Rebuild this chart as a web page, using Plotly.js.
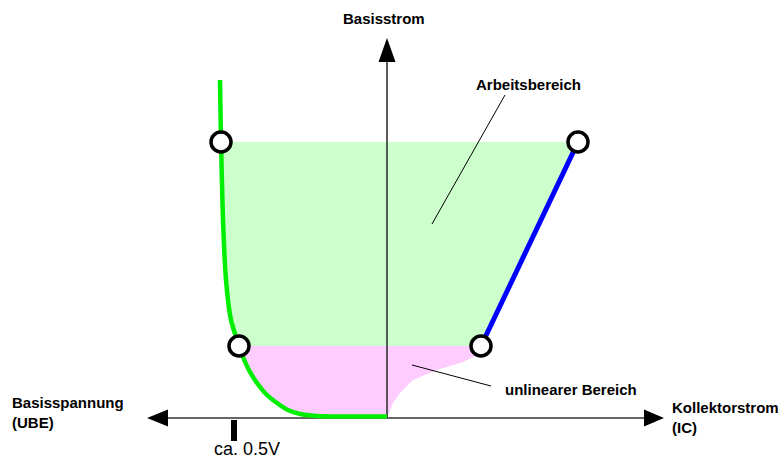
<!DOCTYPE html>
<html><head><meta charset="utf-8">
<script src="https://cdn.plot.ly/plotly-3.0.1.min.js"></script>
<style>html,body{margin:0;padding:0;background:#fff}#chart{width:782px;height:459px}</style>
</head><body><div id="chart"></div>
<script>
// Schematic coordinates (origin at the axis crossing, y up)
var greenCurveX = [-167, -166, -164, -161, -156, -148, -144, -137, -130, -121, -110, -99, -87, -70, -47, 0];
var greenCurveY = [338, 276, 198, 138, 98, 72, 61, 46, 35, 24, 15, 8, 4, 2, 1.5, 1.5];
var blueLineX = [94, 191];
var blueLineY = [72, 276];
var workAreaX = [-166, -164, -161, -156, -148, 94, 191, -166];
var workAreaY = [276, 198, 138, 98, 72, 72, 276, 276];
var nonlinX = [-148, -144, -137, -130, -121, -110, -99, -87, -70, -47, 0, 3, 6, 13, 26, 50, 76, 90, 94, -148];
var nonlinY = [72, 61, 46, 35, 24, 15, 8, 4, 2, 1, 0, 7, 15, 25, 38, 48, 56, 63, 72, 72];
var pointX = [-166, -148, 94, 191];
var pointY = [276, 72, 72, 276];
var hAxisX = [-225, 265];
var hAxisY = [0, 0];
var vAxisX = [0, 0];
var vAxisY = [0, 360];
var tickX = -153;
var tickY = [-2, -23];

var F = "Liberation Sans, Arial, sans-serif";
var traces = [
  {x: workAreaX, y: workAreaY, mode: 'lines', fill: 'toself', fillcolor: '#ccffcc', line: {width: 0}, hoverinfo: 'skip'},
  {x: nonlinX, y: nonlinY, mode: 'lines', fill: 'toself', fillcolor: '#ffccff', line: {width: 0}, hoverinfo: 'skip'},
  {x: hAxisX, y: hAxisY, mode: 'lines', line: {color: '#333', width: 1.6}},
  {x: vAxisX, y: vAxisY, mode: 'lines', line: {color: '#333', width: 1.6}},
  {x: [tickX, tickX], y: tickY, mode: 'lines', line: {color: '#000', width: 6}},
  {x: greenCurveX, y: greenCurveY, mode: 'lines', line: {color: '#00ee00', width: 4.5, shape: 'spline', smoothing: 0.6}},
  {x: blueLineX, y: blueLineY, mode: 'lines', line: {color: '#0000ff', width: 5}},
  {x: pointX, y: pointY, mode: 'markers', marker: {symbol: 'circle', size: 20, color: '#fff', line: {color: '#000', width: 3.5}}}
];

var layout = {
  width: 782, height: 459,
  margin: {l: 0, r: 0, t: 0, b: 0},
  paper_bgcolor: '#fff', plot_bgcolor: '#fff',
  showlegend: false,
  xaxis: {range: [-387, 395], visible: false, fixedrange: true},
  yaxis: {range: [-41, 418], visible: false, fixedrange: true},
  shapes: [
    {type: 'path', path: 'M -240 0 L -219 8.5 L -219 -8.5 Z', xref: 'x', yref: 'y', fillcolor: '#000', line: {width: 0}},
    {type: 'path', path: 'M 277 0 L 257 8.5 L 257 -8.5 Z', xref: 'x', yref: 'y', fillcolor: '#000', line: {width: 0}},
    {type: 'path', path: 'M 0 380 L -8.5 356 L 8.5 356 Z', xref: 'x', yref: 'y', fillcolor: '#000', line: {width: 0}},
    {type: 'line', x0: 118, y0: 323, x1: 45, y1: 194, xref: 'x', yref: 'y', line: {color: '#000', width: 1}},
    {type: 'line', x0: 25, y0: 53, x1: 104, y1: 32, xref: 'x', yref: 'y', line: {color: '#000', width: 1}}
  ],
  annotations: [
    {text: '<b>Basisstrom</b>', x: -3, y: 400, showarrow: false, font: {family: F, size: 15, color: '#000'}},
    {text: '<b>Arbeitsbereich</b>', x: 141, y: 334, showarrow: false, font: {family: F, size: 15, color: '#000'}},
    {text: '<b>unlinearer Bereich</b>', x: 184, y: 29, showarrow: false, font: {family: F, size: 15, color: '#000'}},
    {text: '<b>Basisspannung<br>(UBE)</b>', x: -377, y: 6, xanchor: 'left', align: 'left', showarrow: false, font: {family: F, size: 15, color: '#000'}},
    {text: '<b>Kollektorstrom<br>(IC)</b>', x: 283, y: 1, xanchor: 'left', align: 'left', showarrow: false, font: {family: F, size: 15, color: '#000'}},
    {text: 'ca. 0.5V', x: -140, y: -31, showarrow: false, font: {family: F, size: 18, color: '#000'}}
  ]
};
Plotly.newPlot('chart', traces, layout, {staticPlot: true, displayModeBar: false});
</script></body></html>
